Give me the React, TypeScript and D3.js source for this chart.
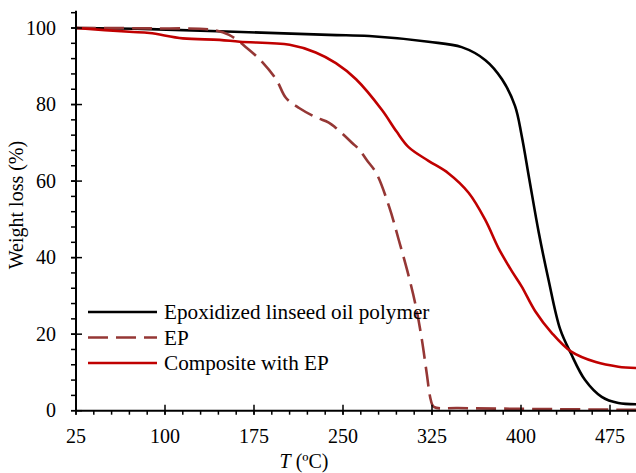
import React from "react";
import * as d3 from "d3";

const W = 636;
const H = 473;

// Temperature (°C) and weight (%) for each series
const eloT = [25, 87, 238, 272, 322, 350, 370, 384, 395, 400.5, 407, 415, 423, 433, 442, 454, 468, 482, 500];
const eloW = [100, 99.7, 98.2, 97.9, 96.4, 95.0, 91.6, 86.6, 79.6, 72.0, 60.5, 46.5, 34.5, 21.3, 15.0, 8.0, 3.6, 2.0, 1.7];

const epT = [25, 87, 140, 154, 169, 182, 194, 202, 213, 227, 238, 244, 258, 264, 270, 278, 289, 297, 305.5, 311.5, 316.5, 320.5, 324, 326.5, 347, 398, 500];
const epW = [100, 99.9, 99.5, 98.2, 94.8, 91.1, 86.4, 81.7, 79.1, 76.7, 75.3, 73.9, 69.9, 68.1, 65.5, 62.1, 53.2, 44.6, 35.0, 27.1, 18.5, 9.9, 2.8, 1.0, 0.7, 0.5, 0.2];

const compT = [25, 70, 87, 115, 146, 163, 205, 227, 244, 261, 283, 295, 305.5, 322, 339, 356, 370, 381, 392, 400.5, 412, 426, 442, 463, 482, 500];
const compW = [100, 99.0, 98.7, 97.3, 96.9, 96.4, 95.6, 93.6, 90.8, 86.6, 78.5, 73.0, 68.8, 65.3, 62.0, 56.9, 49.8, 42.5, 36.6, 32.5, 26.0, 20.3, 15.5, 12.7, 11.5, 11.1];

const xMajor = [25, 100, 175, 250, 325, 400, 475];
const yMajor = [0, 20, 40, 60, 80, 100];

const seriesNames = ["Epoxidized linseed oil polymer", "EP", "Composite with EP"];
const seriesColors = ["#000000", "#953735", "#C00000"];
const seriesDash = [null, "20,8", null];

const FONT = "'Times New Roman', 'Liberation Serif', 'DejaVu Serif', serif";

export default function App() {
  const x = d3.scaleLinear().domain([25, 475]).range([76, 610]);
  const y = d3.scaleLinear().domain([0, 100]).range([410.7, 28]);

  const xMinor = d3.range(25, 501, 15);
  const yMinor = d3.range(0, 105, 4);

  const line = d3
    .line<[number, number]>()
    .x((d) => x(d[0]))
    .y((d) => y(d[1]))
    .curve(d3.curveCatmullRom.alpha(0.5));

  const series = [
    eloT.map((t, i) => [t, eloW[i]] as [number, number]),
    epT.map((t, i) => [t, epW[i]] as [number, number]),
    compT.map((t, i) => [t, compW[i]] as [number, number]),
  ];

  const ts = { fontFamily: FONT };
  const x0 = x(25);
  const y0 = y(0);

  return (
    <svg
      width={W}
      height={H}
      style={{ position: "absolute", left: 0, top: 0, background: "#fff", fontFamily: FONT }}
    >
      <rect width={W} height={H} fill="#fff" />
      {series.map((s, i) => (
        <path
          key={i}
          d={line(s) || ""}
          fill="none"
          stroke={seriesColors[i]}
          strokeWidth={2.6}
          strokeDasharray={seriesDash[i] || undefined}
        />
      ))}
      <line x1={x0} x2={x0} y1={y0} y2={y(104.5)} stroke="#000" strokeWidth={2} />
      {yMinor.map((v) => (
        <line key={"ym" + v} x1={x0 - 5} x2={x0} y1={y(v)} y2={y(v)} stroke="#000" strokeWidth={1.5} />
      ))}
      {yMajor.map((v) => (
        <g key={"yM" + v}>
          <line x1={x0 - 5} x2={x0 + 6} y1={y(v)} y2={y(v)} stroke="#000" strokeWidth={1.5} />
          <text x={56} y={y(v) + 6.5} textAnchor="end" fontSize={20} fill="#000" style={ts}>
            {v}
          </text>
        </g>
      ))}
      <line x1={x0} x2={W} y1={y0} y2={y0} stroke="#000" strokeWidth={2} />
      {xMinor.map((v) => (
        <line key={"xm" + v} x1={x(v)} x2={x(v)} y1={y0} y2={y0 + 4} stroke="#000" strokeWidth={1.5} />
      ))}
      {xMajor.map((v) => (
        <g key={"xM" + v}>
          <line x1={x(v)} x2={x(v)} y1={y0 - 6} y2={y0 + 4} stroke="#000" strokeWidth={1.5} />
          <text x={x(v)} y={443} textAnchor="middle" fontSize={20} fill="#000" style={ts}>
            {v}
          </text>
        </g>
      ))}
      <text x={304} y={468} textAnchor="middle" fontSize={20} fill="#000" style={ts}>
        <tspan fontStyle="italic">T</tspan> (ºC)
      </text>
      <text
        transform={`translate(23, 205) rotate(-90)`}
        textAnchor="middle"
        fontSize={20}
        fill="#000"
        style={ts}
      >
        Weight loss (%)
      </text>
      {seriesNames.map((name, i) => {
        const ly = 312 + i * 25.5;
        return (
          <g key={name}>
            <line
              x1={88}
              x2={157}
              y1={ly}
              y2={ly}
              stroke={seriesColors[i]}
              strokeWidth={2.6}
              strokeDasharray={seriesDash[i] || undefined}
            />
            <text x={164} y={ly + 7} fontSize={21.2} fill="#000" style={ts}>
              {name}
            </text>
          </g>
        );
      })}
    </svg>
  );
}
